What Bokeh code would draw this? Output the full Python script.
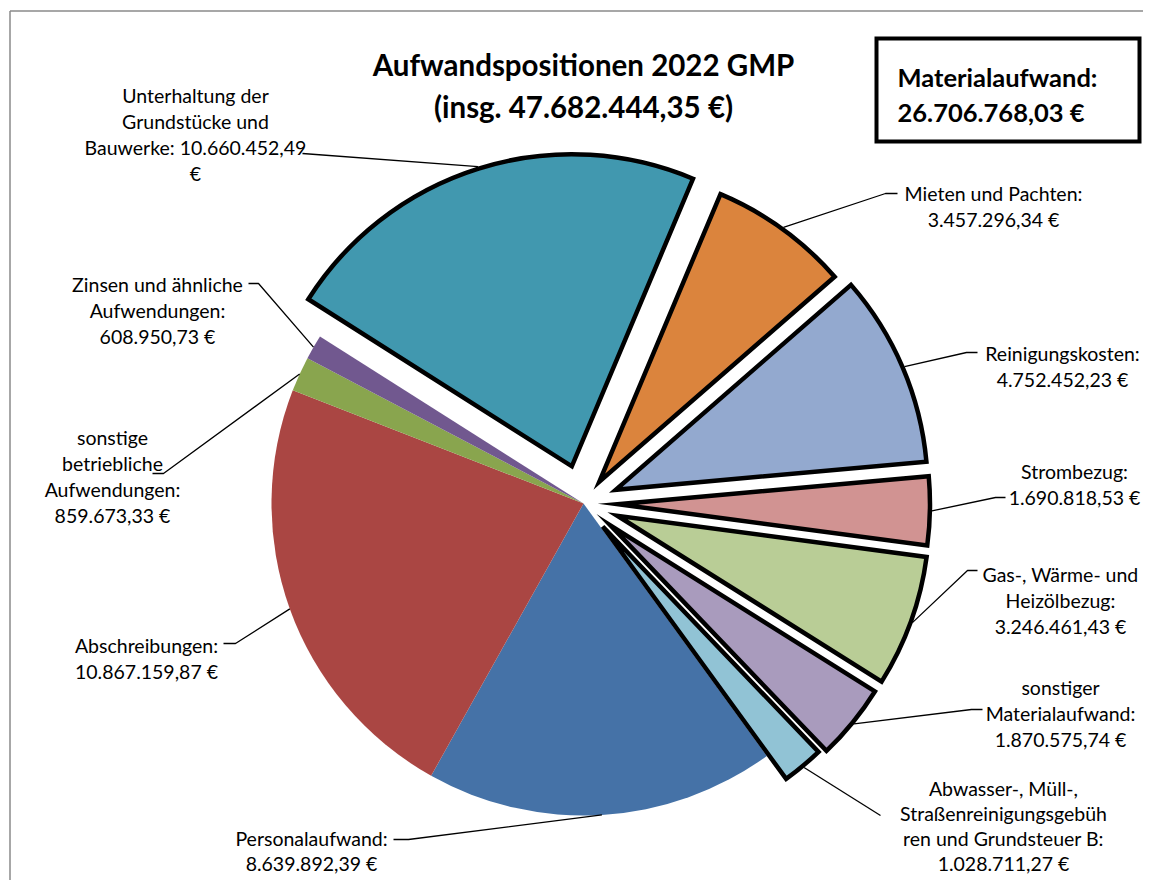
import math
from bokeh.plotting import figure
from bokeh.models import Range1d, ColumnDataSource
from bokeh.embed import file_html
from bokeh.resources import INLINE
from bokeh.core.properties import value

# ---------------- data (Excel series order) ----------------
categories = [
    "Personalaufwand",
    "Abschreibungen",
    "sonstige betriebliche Aufwendungen",
    "Zinsen und ähnliche Aufwendungen",
    "Unterhaltung der Grundstücke und Bauwerke",
    "Mieten und Pachten",
    "Reinigungskosten",
    "Strombezug",
    "Gas-, Wärme- und Heizölbezug",
    "sonstiger Materialaufwand",
    "Abwasser-, Müll-, Straßenreinigungsgebühren und Grundsteuer B",
]
values = [8639892.39, 10867159.87, 859673.33, 608950.73, 10660452.49,
          3457296.34, 4752452.23, 1690818.53, 3246461.43, 1870575.74, 1028711.27]
is_material = [False, False, False, False, True, True, True, True, True, True, True]
colors = ["#4572A7", "#AA4643", "#89A54E", "#71588F", "#4198AF", "#DB843D",
          "#93A9CF", "#D19392", "#B9CD96", "#A99BBD", "#91C3D5"]
label_templates = [
    "Personalaufwand:\n{v} €",
    "Abschreibungen:\n{v} €",
    "sonstige\nbetriebliche\nAufwendungen:\n{v} €",
    "Zinsen und ähnliche\nAufwendungen:\n{v} €",
    "Unterhaltung der\nGrundstücke und\nBauwerke: {v}\n€",
    "Mieten und Pachten:\n{v} €",
    "Reinigungskosten:\n{v} €",
    "Strombezug:\n{v} €",
    "Gas-, Wärme- und\nHeizölbezug:\n{v} €",
    "sonstiger\nMaterialaufwand:\n{v} €",
    "Abwasser-, Müll-,\nStraßenreinigungsgebüh\nren und Grundsteuer B:\n{v} €",
]
title_templates = ["Aufwandspositionen 2022 GMP", "(insg. {v} €)"]
box_templates = ["Materialaufwand:", "{v} €"]


def de(v):
    s = f"{v:,.2f}"
    return s.replace(",", "X").replace(".", ",").replace("X", ".")


total = sum(values)
material_total = sum(v for v, m in zip(values, is_material) if m)

# ---------------- layout ----------------
W, H = 1143, 880


def P(px, py):
    return px, H - py


CX, CY = P(583, 503)
R = 312
first_angle = 144.0  # degrees, clockwise from 12 o'clock
explode = [0, 0, 0, 0, 39, 27, 35, 34.5, 36, 35, 30]

label_cx = [311, 146, 112, 157, 195, 993, 1062, 1074, 1060, 1060, 1003]
label_base = [838, 645, 437, 283.5, 95, 193, 353, 471, 573.5, 686.5, 788]
label_gap = [25, 26, 26, 26, 26, 26, 26, 26, 26, 26, 25]
leader_pts = [
    [(393, 839), (408, 839)],
    [(223, 643), (235, 643)],
    [(152, 473), (163, 473)],
    [(248, 283), (258, 283)],
    [(302, 153)],
    [(897, 193), (885, 193)],
    [(977, 352), (966, 352)],
    [(1005, 497), (995, 497)],
    [(977, 570), (967, 570)],
    [(982, 709), (971, 709)],
    [(880, 815)],
]

FONT = "Lato"

p = figure(width=W, height=H, x_range=Range1d(0, W), y_range=Range1d(0, H),
           output_backend="svg", toolbar_location=None, min_border=0,
           x_axis_type=None, y_axis_type=None, outline_line_color=None)
p.grid.visible = False
p.background_fill_color = "white"
p.border_fill_color = "white"

# chart area border (top and left edges visible)
bx0, by0 = P(9.5, 10.5)
p.segment(x0=[bx0, bx0], y0=[by0, by0], x1=[W + 20, bx0], y1=[by0, -20],
          line_color="#8a8a8a", line_width=1.5)

# ---------------- pie ----------------
xs, ys, starts, ends, lw, la = [], [], [], [], [], []
leader_xs, leader_ys = [], []
cum = 0.0
for i, v in enumerate(values):
    a0 = first_angle + 360.0 * cum / total
    cum += v
    a1 = first_angle + 360.0 * cum / total
    mid = math.radians((a0 + a1) / 2)
    e = explode[i]
    cx = CX + e * math.sin(mid)
    cy = CY + e * math.cos(mid)
    xs.append(cx)
    ys.append(cy)
    starts.append(math.radians(90 - a1))
    ends.append(math.radians(90 - a0))
    lw.append(4.5 if is_material[i] else 0.01)
    la.append(1.0 if is_material[i] else 0.0)
    rr = R + (2 if is_material[i] else 0)
    ex, ey = cx + rr * math.sin(mid), cy + rr * math.cos(mid)
    pts = [P(*q) for q in leader_pts[i]] + [(ex, ey)]
    leader_xs.append([q[0] for q in pts])
    leader_ys.append([q[1] for q in pts])

src = ColumnDataSource(dict(x=xs, y=ys, start=starts, end=ends, color=colors,
                            lw=lw, la=la, name=categories, val=values))
p.wedge(x="x", y="y", radius=R, start_angle="start", end_angle="end",
        fill_color="color", line_color="black", line_width="lw", line_alpha="la",
        line_join="miter", source=src)

p.multi_line(xs=leader_xs, ys=leader_ys, line_color="black", line_width=1.3)

# ---------------- labels ----------------
tx, ty, tt = [], [], []
for i, tpl in enumerate(label_templates):
    lines = tpl.replace("{v}", de(values[i])).split("\n")
    for k, ln in enumerate(lines):
        x, y = P(label_cx[i], label_base[i] + k * label_gap[i])
        tx.append(x)
        ty.append(y)
        tt.append(ln)
p.text(x=tx, y=ty, text=tt, text_align="center", text_baseline="alphabetic",
       text_font=value(FONT), text_font_size="19.5px", text_color="black")

# ---------------- title ----------------
t_lines = [s.replace("{v}", de(total)) for s in title_templates]
t_x = [P(583, 0)[0]] * 2
t_y = [P(0, 63.5)[1], P(0, 105.5)[1]]
p.text(x=t_x, y=t_y, text=t_lines, text_align="center", text_baseline="alphabetic",
       text_font=value(FONT), text_font_style="bold", text_font_size="29.5px",
       text_color="black")

# ---------------- material box ----------------
l, t = P(876, 38)
r, b = P(1139, 141)
p.quad(left=[l], right=[r], top=[t], bottom=[b], fill_color="white",
       line_color="black", line_width=4, line_join="miter")
b_lines = [s.replace("{v}", de(material_total)) for s in box_templates]
p.text(x=[P(897, 0)[0]] * 2, y=[P(0, 76)[1], P(0, 111)[1]], text=b_lines,
       text_align="left", text_baseline="alphabetic", text_font=value(FONT),
       text_font_style="bold", text_font_size="25.5px", text_color="black")

open("out.html", "w").write(file_html(p, INLINE))
